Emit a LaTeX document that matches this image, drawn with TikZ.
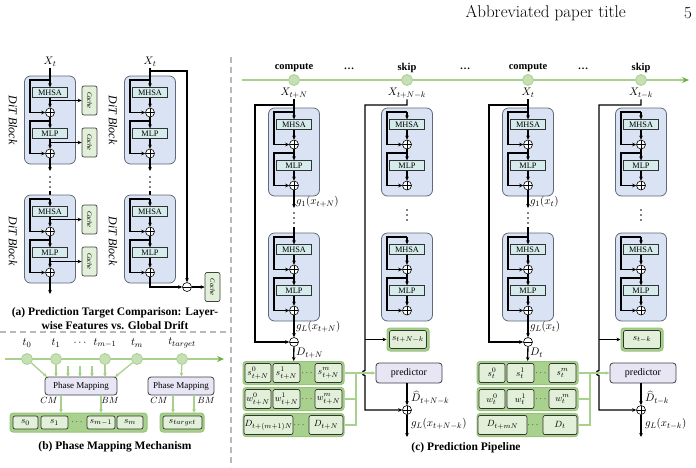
\documentclass[tikz,border=0pt]{standalone}
\usepackage{fontspec}
\newfontfamily\tnr{Liberation Serif}
\usetikzlibrary{arrows.meta}
\definecolor{blkfill}{RGB}{218,227,243}
\definecolor{blkdraw}{RGB}{95,105,120}
\definecolor{opfill}{RGB}{214,236,236}
\definecolor{cachefill}{RGB}{226,239,217}
\definecolor{gline}{RGB}{169,209,142}
\definecolor{gdark}{RGB}{112,173,71}
\definecolor{gcirc}{RGB}{197,224,180}
\definecolor{stripfill}{RGB}{169,209,142}
\definecolor{stripdraw}{RGB}{150,196,120}
\definecolor{cellfill}{RGB}{226,239,217}
\definecolor{lav}{RGB}{232,230,245}
\definecolor{dashc}{RGB}{185,185,185}
\tikzset{
 ln/.style={line width=1.3pt, black},
 ar/.style={ln, -{Stealth[length=4pt,width=3.6pt]}},
 blk/.style={draw=blkdraw, fill=blkfill, line width=0.8pt, rounded corners=6pt, minimum width=51pt, minimum height=88pt, inner sep=0pt},
 opbox/.style={draw=black!80, fill=opfill, line width=0.8pt, minimum width=35pt, minimum height=9.5pt, inner sep=0pt, font=\tnr\fontsize{8.3}{9}\selectfont},
 oplus/.style={circle, draw, fill=white, line width=0.6pt, minimum size=9pt, inner sep=0pt, path picture={\draw[line width=0.6pt] (path picture bounding box.north)--(path picture bounding box.south) (path picture bounding box.west)--(path picture bounding box.east);}},
 ominus/.style={circle, draw, fill=white, line width=0.6pt, minimum size=9pt, inner sep=0pt, path picture={\draw[line width=0.6pt] (path picture bounding box.west)--(path picture bounding box.east);}},
 cache/.style={draw=black!75, fill=cachefill, line width=0.7pt, rounded corners=2pt, minimum width=29pt, minimum height=15pt, inner sep=0pt, rotate=-90, font=\tnr\itshape\fontsize{6.5}{7}\selectfont},
 ditlbl/.style={rotate=-90, font=\tnr\itshape\fontsize{12}{13}\selectfont, inner sep=0pt},
 mlbl/.style={font=\fontsize{11}{12}\selectfont, inner sep=1pt},
 slbl/.style={font=\fontsize{9.5}{10}\selectfont, inner sep=0pt},
 captxt/.style={font=\tnr\bfseries\fontsize{11.5}{13}\selectfont, inner sep=0pt},
 tlbl/.style={font=\tnr\bfseries\fontsize{10.5}{12}\selectfont, inner sep=0pt},
 pm/.style={draw=black!75, fill=lav, line width=0.8pt, rounded corners=3pt, inner sep=0pt},
 strip/.style={draw=stripdraw, fill=stripfill, line width=1pt, rounded corners=3pt, inner sep=0pt},
 cell/.style={draw=black!80, fill=cellfill, line width=0.7pt, rounded corners=2pt, inner sep=0pt, font=\fontsize{9.5}{10}\selectfont},
 tc/.style={circle, fill=gcirc, draw=gline, line width=0.8pt, minimum size=11pt, inner sep=0pt},
 gl/.style={draw=gline, line width=1.3pt},
 garrow/.style={gl, -{Stealth[length=4pt,width=3.6pt]}},
 dashl/.style={draw=dashc, line width=1.2pt, dash pattern=on 6pt off 4pt}
}
\newcommand{\vdotsat}[2]{\fill (#1,#2) circle[radius=0.9pt] (#1,#2+5) circle[radius=0.9pt] (#1,#2+10) circle[radius=0.9pt];}
\newcommand{\ditblk}[3]{%
 \node[blk] (#1-bk) at (#2,#3+44) {};
 \node[opbox] (#1-a) at (#2,#3+16.5) {MHSA};
 \node[oplus] (#1-p1) at (#2,#3+36.5) {};
 \node[opbox] (#1-m) at (#2,#3+57.5) {MLP};
 \node[oplus] (#1-p2) at (#2,#3+77.5) {};
 \draw[ar] (#2,#3+4) -- (#1-a);
 \draw[ar] (#2,#3+4) -- (#2-20,#3+4) -- (#2-20,#3+36.5) -- (#1-p1);
 \draw[ar] (#1-a) -- (#1-p1);
 \draw[ar] (#1-p1) -- (#1-m);
 \draw[ar] (#2,#3+45) -- (#2-20,#3+45) -- (#2-20,#3+77.5) -- (#1-p2);
 \draw[ar] (#1-m) -- (#1-p2);
}
\newcommand{\computecol}[4]{%
 \node[mlbl] (#1-x) at (#2,93) {$X_{#3}$};
 \node[ominus] (#1-om) at (#2,342) {};
 \ditblk{#1-b1}{#2}{108}
 \ditblk{#1-b2}{#2}{233}
 \draw[ln] (#1-x) -- (#2,112);
 \draw[ar] (#2,105) -- (#2-39,105) -- (#2-39,342) -- (#1-om);
 \draw[ar] (#1-b1-p2) -- (#2,208);
 \vdotsat{#2}{213}
 \draw[ln] (#2,227) -- (#2,237);
 \draw[ar] (#1-b2-p2) -- (#1-om);
 \node[mlbl, anchor=west] at (#2+1,202) {$g_1(x_{#3})$};
 \node[mlbl, anchor=west] at (#2+1,327) {$g_L(x_{#3})$};
 \node[mlbl, anchor=west] at (#2+1,353) {$D_{#3}$};
 \node[strip, minimum width=101pt, minimum height=23pt] (#1-ss) at (#2-0.5,373) {};
 \node[strip, minimum width=101pt, minimum height=23pt] (#1-ws) at (#2-0.5,399) {};
 \node[strip, minimum width=101pt, minimum height=23pt] (#1-ds) at (#2-0.5,425) {};
 \draw[ar] (#1-om) -- (#1-ss);
 \node[cell, minimum width=26pt, minimum height=19pt] at (#2-36,373) {$s^0_{#3}$};
 \node[cell, minimum width=27pt, minimum height=19pt] at (#2-7.5,373) {$s^1_{#3}$};
 \node[slbl] at (#2+13,373) {$\cdots$};
 \node[cell, minimum width=27pt, minimum height=19pt] at (#2+34.5,373) {$s^m_{#3}$};
 \node[cell, minimum width=26pt, minimum height=19pt] at (#2-36,399) {$w^0_{#3}$};
 \node[cell, minimum width=27pt, minimum height=19pt] at (#2-7.5,399) {$w^1_{#3}$};
 \node[slbl] at (#2+13,399) {$\cdots$};
 \node[cell, minimum width=27pt, minimum height=19pt] at (#2+34.5,399) {$w^m_{#3}$};
 \node[cell, minimum width=49pt, minimum height=19pt] at (#2-25.5,425) {$D_{#4}$};
 \node[slbl] at (#2+5,425) {$\cdots$};
 \node[cell, minimum width=34pt, minimum height=19pt] at (#2+32,425) {$D_{#3}$};
 \draw[gl] (#1-ws.east) -- (#2+62,399);
 \draw[gl] (#1-ds.east) -- (#2+62,425) -- (#2+62,373);
}
\newcommand{\skipcol}[3]{%
 \node[mlbl] (#1-x) at (#2,93) {$X_{#3}$};
 \ditblk{#1-b1}{#2}{108}
 \ditblk{#1-b2}{#2}{233}
 \vdotsat{#2}{210}
 \node[strip, minimum width=42pt, minimum height=23pt] (#1-sb) at (#2+1,339.5) {};
 \node[cell, minimum width=37pt, minimum height=18pt] (#1-s) at (#2+1,339.5) {$s_{#3}$};
 \node[pm, minimum width=66pt, minimum height=20pt, font=\tnr\fontsize{10}{12}\selectfont] (#1-pr) at (#2+2,373) {predictor};
 \node[oplus] (#1-op) at (#2,410) {};
 \draw[ar] (#1-x) -- (#2,105) -- (#2-42,105) -- (#2-42,370.5) .. controls (#2-45.5,370.5) and (#2-45.5,375.5) .. (#2-42,375.5) -- (#2-42,410) -- (#1-op);
 \draw[ar] (#2-42,339.5) -- (#1-sb);
 \draw[ar] (#2,383) -- (#1-op);
 \node[mlbl, anchor=west, inner sep=0pt] at (#2+4,398) {$\widehat{D}_{#3}$};
 \draw[ar] (#1-op) -- (#2,437);
 \node[mlbl, anchor=west] at (#2+3,424) {$g_L(x_{#3})$};
}
\begin{document}
\begin{tikzpicture}[x=1pt,y=-1pt]
\useasboundingbox (0,0) rectangle (696,467);
% header
\node[anchor=east, font=\fontsize{17}{19}\selectfont, inner sep=0pt] (hdr) at (626,13) {Abbreviated paper title};
\node[anchor=east, font=\fontsize{17}{19}\selectfont, inner sep=0pt] (pg) at (692,13) {5};
% separators
\draw[dashl] (231,57) -- (231,467);
\draw[dashl] (0,332) -- (231,332);

% ---------------- (a)
\node[mlbl] (xa1) at (50,62) {$X_t$};
\ditblk{a1}{50}{76}
\draw[ln] (xa1) -- (50,80);
\node[cache] (c11) at (89.5,100.5) {Cache};
\node[cache] (c12) at (89.5,142.5) {Cache};
\draw[ar] (50,100.5) -- (c11);
\draw[ar] (50,142.5) -- (c12);
\draw[ar] (a1-p2) -- (50,171);
\vdotsat{50}{177}
\draw[ln] (50,191) -- (50,199);
\ditblk{a2}{50}{195}
\node[cache] (c21) at (89.5,219.5) {Cache};
\node[cache] (c22) at (89.5,261.5) {Cache};
\draw[ar] (50,219.5) -- (c21);
\draw[ar] (50,261.5) -- (c22);
\draw[ar] (a2-p2) -- (50,294);
\node[ditlbl] at (13,120) {DiT Block};
\node[ditlbl] at (13,241) {DiT Block};

\node[mlbl] (xa2) at (150,62) {$X_t$};
\node[ominus] (am) at (187,287) {};
\ditblk{a3}{150}{76}
\draw[ln] (xa2) -- (150,80);
\draw[ar] (150,71) -- (187,71) -- (am);
\draw[ar] (a3-p2) -- (150,171);
\vdotsat{150}{177}
\draw[ln] (150,191) -- (150,199);
\ditblk{a4}{150}{195}
\draw[ar] (a4-p2) |- (am);
\node[cache] (c5) at (212.5,287) {Cache};
\draw[ar] (am) -- (c5);
\node[ditlbl] at (113,120) {DiT Block};
\node[ditlbl] at (113,241) {DiT Block};

\node[captxt] at (115,313) {(a) Prediction Target Comparison: Layer-};
\node[captxt] at (115,326) {wise Features vs. Global Drift};

% ---------------- (b)
\draw[gline, line width=1.5pt, -{Stealth[length=7pt,width=6pt,color=gdark]}] (5,359) -- (224,359);
\node[tc] (t0) at (27,359) {};
\node[tc] (t1) at (56,359) {};
\node[tc] (tm1) at (105,359) {};
\node[tc] (tm) at (137,359) {};
\node[tc] (tt) at (182,359) {};
\node[mlbl] at (27,343) {$t_0$};
\node[mlbl] at (56,343) {$t_1$};
\node[mlbl] at (80,343) {$\cdots$};
\node[mlbl] at (105,343) {$t_{m-1}$};
\node[mlbl] at (137,343) {$t_m$};
\node[mlbl] at (182,343) {$t_{target}$};
\node[pm, minimum width=72pt, minimum height=18pt, font=\tnr\fontsize{9}{11}\selectfont] (pm1) at (81,386) {Phase Mapping};
\node[pm, minimum width=66pt, minimum height=18pt, font=\tnr\fontsize{9}{11}\selectfont] (pm2) at (181,386) {Phase Mapping};
\draw[garrow] (t0) -- (47,377);
\draw[garrow] (t1) -- (56,377);
\draw[garrow] (68,366) -- (68,377);
\draw[garrow] (80,366) -- (80,377);
\draw[garrow] (92,366) -- (92,377);
\draw[garrow] (tm1) -- (105,377);
\draw[garrow] (tm) -- (115,377);
\draw[garrow] (tt) -- (pm2);
\node[strip, minimum width=137pt, minimum height=19pt] (sb) at (78.5,422.5) {};
\node[strip, minimum width=44pt, minimum height=19pt] (stb) at (182,422.5) {};
\draw[garrow] (61,395) -- (61,413);
\draw[garrow] (101,395) -- (101,413);
\draw[garrow] (173,395) -- (173,413);
\draw[garrow] (194,395) -- (194,413);
\node[slbl] at (49,400) {$CM$};
\node[slbl] at (110,400) {$BM$};
\node[slbl] at (159,400) {$CM$};
\node[slbl] at (206,400) {$BM$};
\node[cell, minimum width=25pt, minimum height=13pt] at (25.5,422.5) {$s_0$};
\node[cell, minimum width=27pt, minimum height=13pt] at (54.5,422.5) {$s_1$};
\node[slbl] at (77,422.5) {$\cdots$};
\node[cell, minimum width=28pt, minimum height=13pt] at (101,422.5) {$s_{m-1}$};
\node[cell, minimum width=26pt, minimum height=13pt] at (130,422.5) {$s_m$};
\node[cell, minimum width=39pt, minimum height=13pt] at (182.5,422.5) {$s_{target}$};
\node[captxt] at (115,447) {(b) Phase Mapping Mechanism};

% ---------------- (c)
\draw[gline, line width=1.5pt, -{Stealth[length=7pt,width=6pt,color=gdark]}] (242,80) -- (689,80);
\node[tc] (tc1) at (294,80) {};
\node[tc] (tc2) at (407,80) {};
\node[tc] (tc3) at (528,80) {};
\node[tc] (tc4) at (641,80) {};
\node[tlbl] at (294,68) {compute};
\node[tlbl] at (407,68) {skip};
\node[tlbl] at (528,68) {compute};
\node[tlbl] at (641,68) {skip};
\node[tlbl] at (349,69) {\ldots};
\node[tlbl] at (465,69) {\ldots};
\node[tlbl] at (583,69) {\ldots};

\computecol{c1}{294}{t+N}{t+(m+1)N}
\skipcol{k1}{407}{t+N-k}
\computecol{c3}{528}{t}{t+mN}
\skipcol{k3}{641}{t-k}
\draw[gl] (c1-ss.east) -- (356,373);
\draw[garrow] (356,373) -- (k1-pr);
\draw[gl] (c3-ss.east) -- (590,373);
\draw[garrow] (590,373) -- (k3-pr);

\node[captxt] at (466,448) {(c) Prediction Pipeline};
\end{tikzpicture}
\end{document}
